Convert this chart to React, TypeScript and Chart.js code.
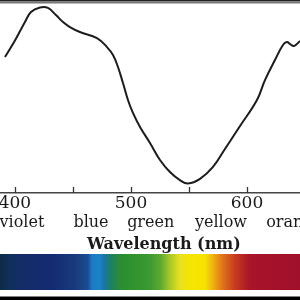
import React, { useEffect, useRef } from "react";
import { Chart, registerables } from "chart.js";

Chart.register(...registerables);

// Curve: wavelength (nm) vs relative absorbance
const wavelengths = [391.4, 400, 408.6, 413.8, 421.6, 428.4, 435.3, 441.4, 447.4, 456, 470.7, 479.3, 484.5, 488.8, 493.1, 497.4, 501.7, 507.8, 516.4, 525, 533.6, 542.2, 549.1, 559.5, 570.7, 581, 594, 608.6, 615.5, 624.1, 631, 634.5, 637.1, 640.5, 645.7];
const absorbance = [0.705, 0.79, 0.886, 0.938, 0.961, 0.959, 0.922, 0.886, 0.86, 0.834, 0.803, 0.756, 0.715, 0.653, 0.57, 0.482, 0.415, 0.342, 0.259, 0.171, 0.109, 0.067, 0.049, 0.073, 0.135, 0.228, 0.347, 0.482, 0.585, 0.689, 0.767, 0.782, 0.772, 0.762, 0.788];

// Axis ticks
const tickValues = [400, 450, 500, 550, 600];
const tickLabels = ["400", "", "500", "", "600"];

// Colour names along the axis
const colorNamePositions = [406, 465.5, 517, 577.6, 641];
const colorNames = ["violet", "blue", "green", "yellow", "orange"];
const axisTitle = "     Wavelength (nm)";

// Spectrum strip stops
const spectrumWavelengths = [387.1, 395.7, 404.3, 430.2, 451.7, 462.9, 466.4, 473.3, 476.7, 481.9, 488.8, 494.8, 516.4, 525, 533.6, 542.2, 550.9, 563.8, 569.8, 578.4, 589.7, 602.6, 645.7];
const spectrumColors = ["#0e2a46", "#10305a", "#132c66", "#142a72", "#193a7c", "#1a4c94", "#1a7cc4", "#1a82c8", "#1c74a8", "#1a8068", "#2a8a3c", "#2a902e", "#3c9a30", "#5aa830", "#a8c828", "#e8e020", "#f5e600", "#f5e200", "#f0b810", "#e07818", "#c83a20", "#a81428", "#a0102a"];

const X_MIN = 387.1;
const X_MAX = 645.7;

const decorPlugin = {
  id: "decor",
  afterDraw(chart: any) {
    const { ctx, chartArea } = chart;
    const x = chart.scales.x;
    ctx.save();
    // top border
    ctx.fillStyle = "#222";
    ctx.fillRect(0, 0, 300, 1.5);
    ctx.fillStyle = "#777";
    ctx.fillRect(0, 1.5, 300, 2);
    // tick marks pointing up into the plot
    ctx.strokeStyle = "#333";
    ctx.lineWidth = 1.3;
    x.ticks.forEach((t: any) => {
      const px = Math.round(x.getPixelForValue(t.value)) + 0.5;
      ctx.beginPath();
      ctx.moveTo(px, chartArea.bottom);
      ctx.lineTo(px, chartArea.bottom - 6);
      ctx.stroke();
    });
    // spectrum strip
    const left = x.getPixelForValue(X_MIN);
    const right = x.getPixelForValue(X_MAX);
    const grad = ctx.createLinearGradient(left, 0, right, 0);
    spectrumWavelengths.forEach((w, i) => {
      const p = (x.getPixelForValue(w) - left) / (right - left);
      grad.addColorStop(Math.min(1, Math.max(0, p)), spectrumColors[i]);
    });
    ctx.fillStyle = grad;
    ctx.fillRect(left, 254, right - left, 36);
    // bottom line
    ctx.fillStyle = "#000";
    ctx.fillRect(0, 296.5, 300, 3.5);
    ctx.restore();
  },
};

const noPad = (s: any, h: number) => {
  s.height = h;
  s.paddingLeft = 0;
  s.paddingRight = 0;
  s.paddingTop = 0;
  s.paddingBottom = 0;
};

export default function App() {
  const ref = useRef<HTMLCanvasElement | null>(null);
  useEffect(() => {
    if (!ref.current) return;
    const chart = new Chart(ref.current, {
      type: "line",
      data: {
        datasets: [
          {
            data: wavelengths.map((w, i) => ({ x: w, y: absorbance[i] })),
            borderColor: "#1c1c1c",
            borderWidth: 2,
            pointRadius: 0,
            tension: 0.4,
            fill: false,
          },
        ],
      },
      options: {
        responsive: false,
        animation: false,
        events: [],
        layout: { autoPadding: false, padding: { top: 0, left: 0, right: 0, bottom: 46 } },
        plugins: { legend: { display: false }, tooltip: { enabled: false }, title: { display: false } },
        scales: {
          y: { display: false, min: 0, max: 1 },
          x: {
            type: "linear",
            position: "bottom",
            min: X_MIN,
            max: X_MAX,
            weight: 0,
            grid: { display: false, drawTicks: false },
            border: { display: true, color: "#444", width: 1.5 },
            afterBuildTicks: (s: any) => {
              s.ticks = tickValues.map((v) => ({ value: v }));
            },
            afterFit: (s: any) => noPad(s, 18),
            ticks: {
              autoSkip: false,
              maxRotation: 0,
              minRotation: 0,
              padding: 0,
              color: "#1a1a1a",
              font: { family: "DejaVu Serif", size: 17 },
              callback: (_v: any, i: number) => tickLabels[i],
            },
          },
          x2: {
            type: "linear",
            position: "bottom",
            min: X_MIN,
            max: X_MAX,
            weight: 1,
            grid: { display: false, drawTicks: false },
            border: { display: false },
            afterBuildTicks: (s: any) => {
              s.ticks = colorNamePositions.map((v) => ({ value: v }));
            },
            afterFit: (s: any) => noPad(s, 43),
            ticks: {
              autoSkip: false,
              maxRotation: 0,
              minRotation: 0,
              padding: 2,
              color: "#1a1a1a",
              font: { family: "DejaVu Serif", size: 16 },
              callback: (_v: any, i: number) => colorNames[i],
            },
            title: {
              display: true,
              text: axisTitle,
              color: "#1a1a1a",
              font: { family: "DejaVu Serif", size: 16, weight: "bold" },
              padding: { top: 0, bottom: 0 },
            },
          },
        },
      },
      plugins: [decorPlugin],
    });
    return () => chart.destroy();
  }, []);
  return (
    <div style={{ position: "absolute", left: 0, top: 0, width: 300, height: 300 }}>
      <canvas ref={ref} width={300} height={300} />
    </div>
  );
}
